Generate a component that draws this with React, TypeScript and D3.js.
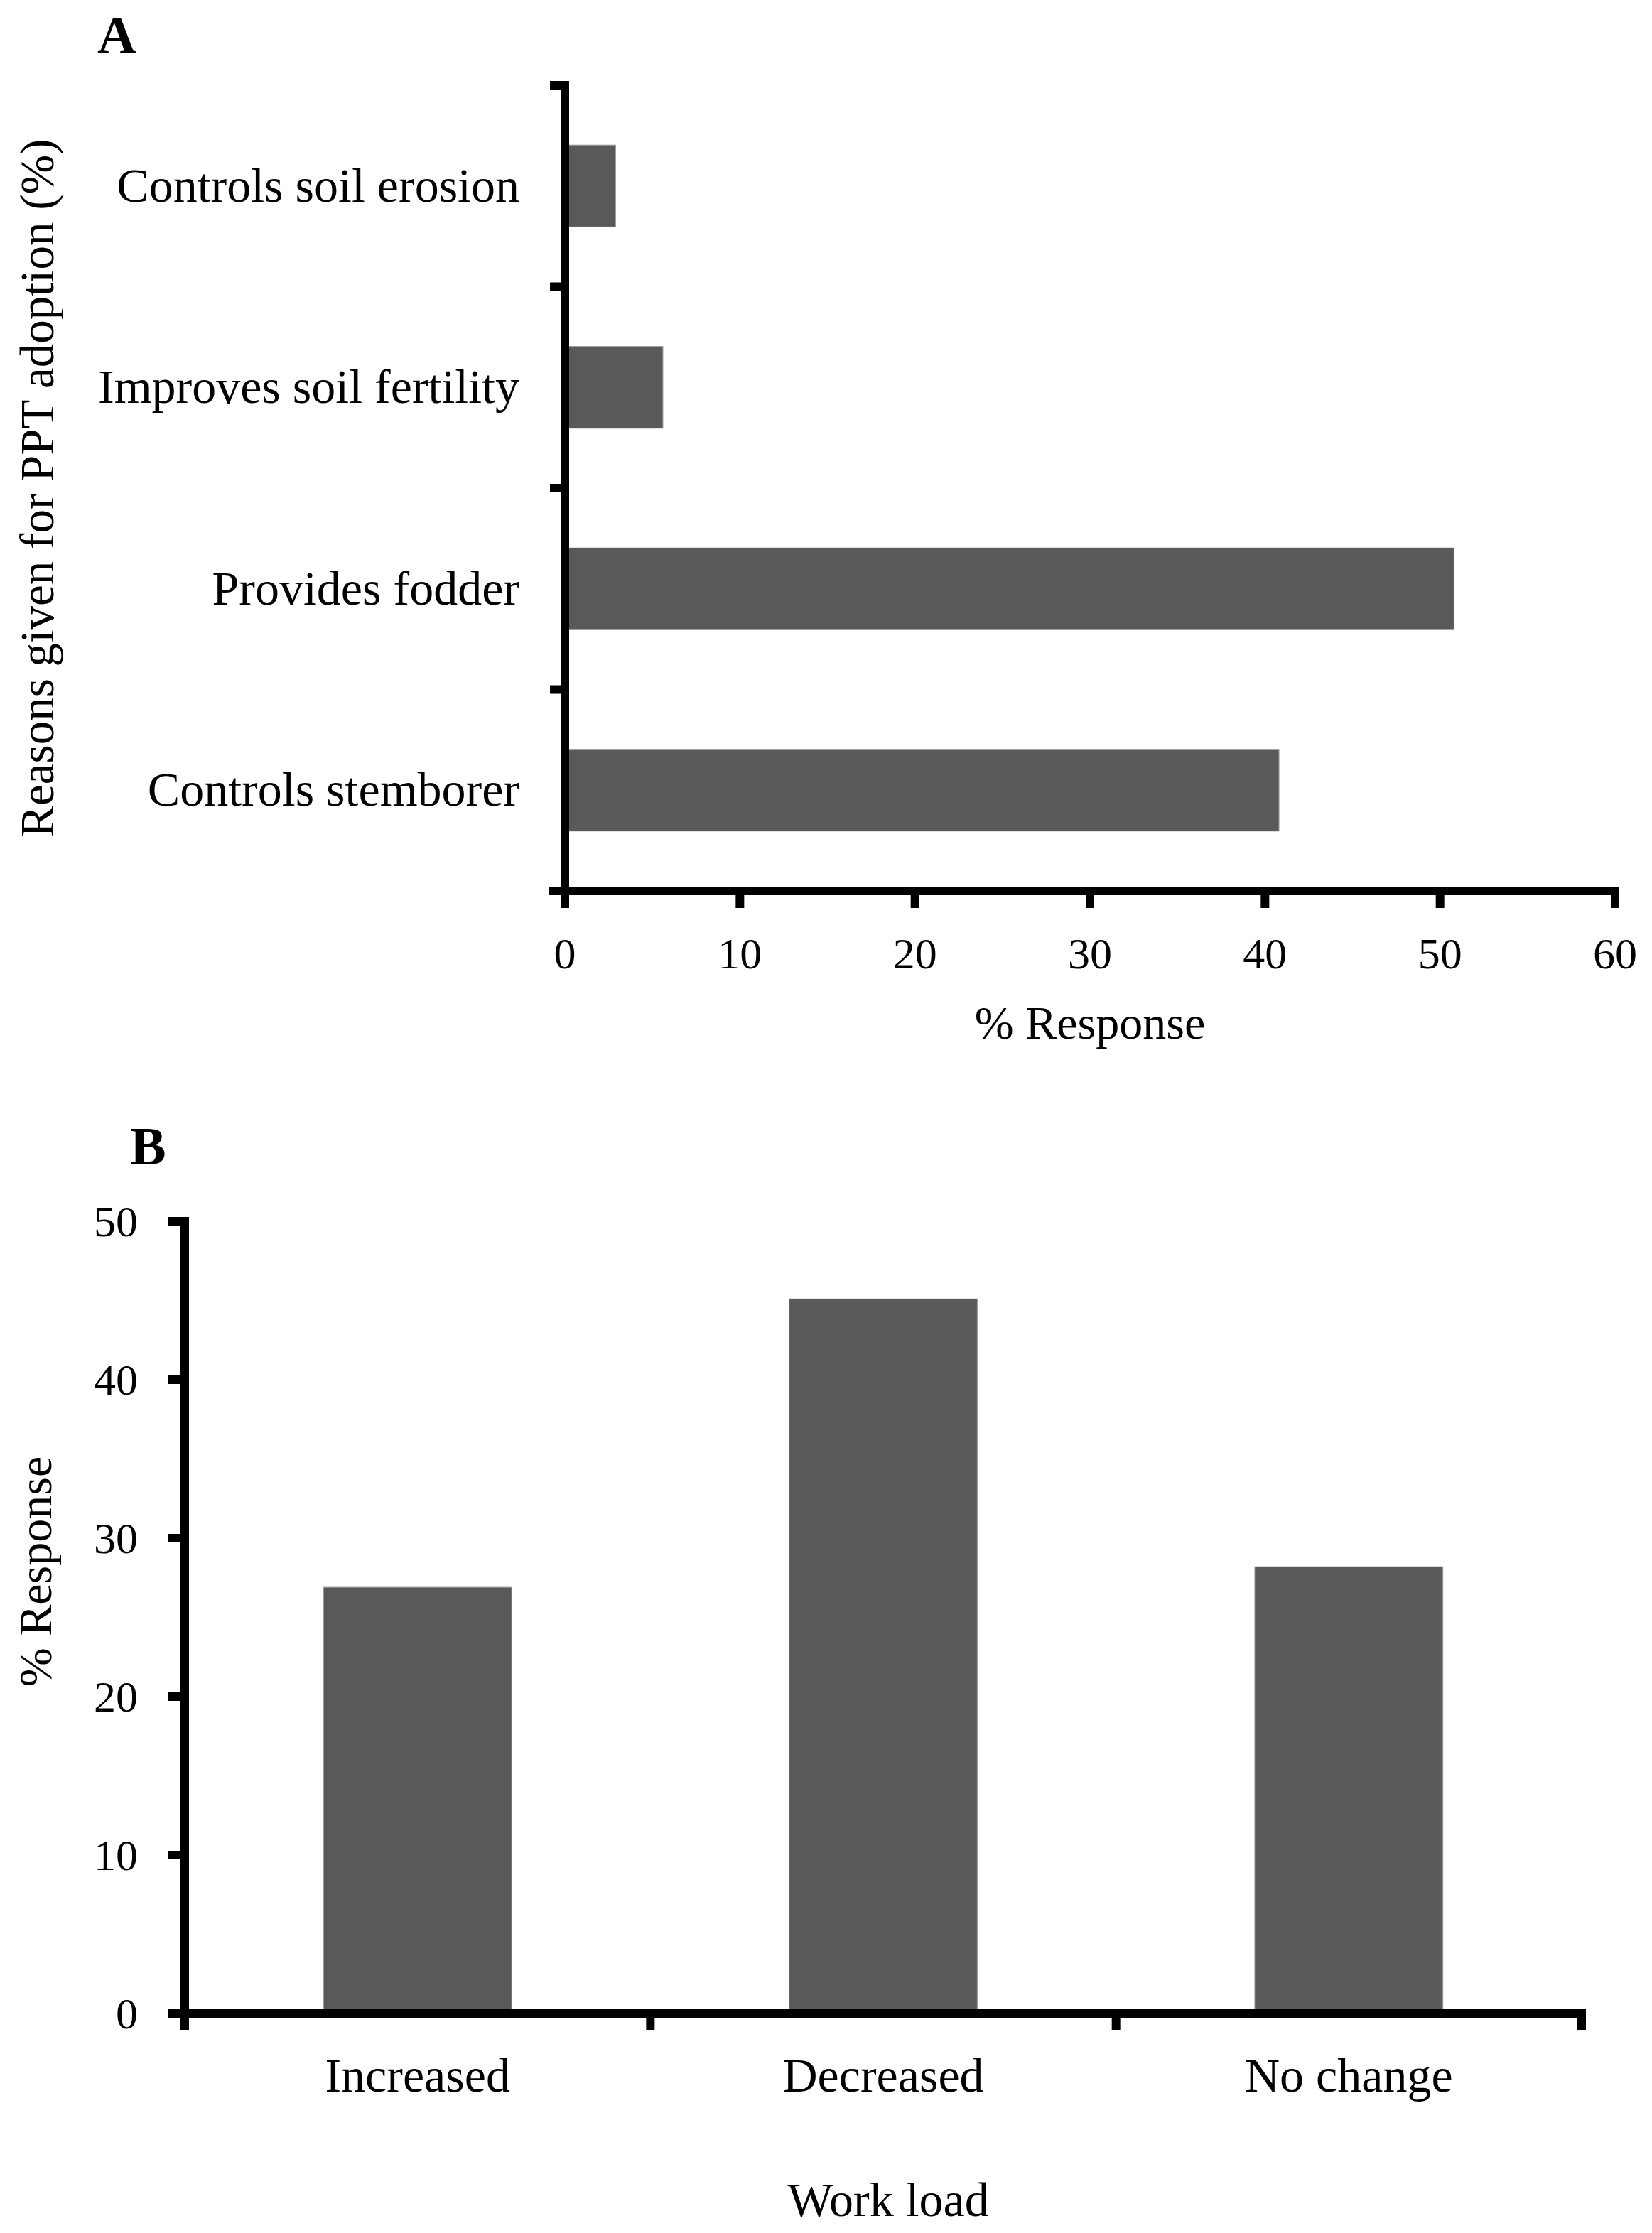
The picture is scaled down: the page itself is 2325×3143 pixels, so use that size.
import React from "react";
import * as d3 from "d3";

// Panel A data
const reasons = [
  "Controls soil erosion",
  "Improves soil fertility",
  "Provides fodder",
  "Controls stemborer",
];
const reasonValues = [2.9, 5.6, 50.8, 40.8];
const xTicksA = [0, 10, 20, 30, 40, 50, 60];

// Panel B data
const workload = ["Increased", "Decreased", "No change"];
const workloadValues = [26.9, 45.1, 28.2];
const yTicksB = [0, 10, 20, 30, 40, 50];

const FONT = "'Liberation Serif', 'Times New Roman', serif";
const BAR = "#595959";
const AXW = 12;

export default function App() {
  // Panel A scales
  const xA = d3.scaleLinear().domain([0, 60]).range([795, 2273]);
  const yA = d3.scaleBand<string>().domain(reasons).range([120, 1254]).padding(0);
  const bwA = yA.bandwidth();
  const boundsA = [...reasons.map((r) => yA(r) as number), 1254];

  // Panel B scales
  const xB = d3.scaleBand<string>().domain(workload).range([260, 2226]).padding(0);
  const yB = d3.scaleLinear().domain([0, 50]).range([2834, 1719]);
  const bwB = xB.bandwidth();
  const boundsB = [...workload.map((w) => xB(w) as number), 2226];

  return (
    <svg
      width={2325}
      height={3143}
      viewBox="0 0 2325 3143"
      style={{ position: "absolute", left: 0, top: 0, background: "#fff" }}
      fontFamily={FONT}
    >
      <rect x={0} y={0} width={2325} height={3143} fill="#fff" />

      {/* ---------------- Panel A ---------------- */}
      <text x={137} y={75} fontSize={76} fontWeight="bold">A</text>

      {reasons.map((r, i) => (
        <rect
          key={r}
          x={xA(0)}
          y={(yA(r) as number) + bwA * 0.297}
          width={xA(reasonValues[i]) - xA(0)}
          height={bwA * 0.406}
          fill={BAR}
          stroke="#9a9a9a"
          strokeWidth={1}
        />
      ))}

      {reasons.map((r) => (
        <text
          key={r}
          x={731}
          y={(yA(r) as number) + bwA / 2 + 22}
          fontSize={68}
          textAnchor="end"
        >
          {r}
        </text>
      ))}

      {/* y axis A */}
      <line x1={xA(0)} x2={xA(0)} y1={120 - AXW / 2} y2={1254} stroke="#000" strokeWidth={AXW} />
      {boundsA.map((b, i) => (
        <line key={i} x1={774} x2={xA(0)} y1={b} y2={b} stroke="#000" strokeWidth={AXW} />
      ))}
      {/* x axis A */}
      <line x1={773} x2={xA(60) + AXW / 2} y1={1254} y2={1254} stroke="#000" strokeWidth={AXW} />
      {xTicksA.map((t) => (
        <g key={t}>
          <line x1={xA(t)} x2={xA(t)} y1={1254} y2={1278} stroke="#000" strokeWidth={AXW} />
          <text x={xA(t)} y={1363} fontSize={62} textAnchor="middle">{t}</text>
        </g>
      ))}
      <text x={(xA(0) + xA(60)) / 2} y={1462} fontSize={66} textAnchor="middle">% Response</text>
      <text
        transform={`translate(75, ${(120 + 1254) / 2}) rotate(-90)`}
        fontSize={67}
        textAnchor="middle"
      >
        Reasons given for PPT adoption (%)
      </text>

      {/* ---------------- Panel B ---------------- */}
      <text x={183} y={1639} fontSize={76} fontWeight="bold">B</text>

      {workload.map((w, i) => (
        <rect
          key={w}
          x={(xB(w) as number) + bwB * 0.298}
          y={yB(workloadValues[i])}
          width={bwB * 0.404}
          height={yB(0) - yB(workloadValues[i])}
          fill={BAR}
          stroke="#9a9a9a"
          strokeWidth={1}
        />
      ))}

      {/* y axis B */}
      <line x1={260} x2={260} y1={1713} y2={2857} stroke="#000" strokeWidth={AXW} />
      {yTicksB.map((t) => (
        <g key={t}>
          <line x1={236} x2={260} y1={yB(t)} y2={yB(t)} stroke="#000" strokeWidth={AXW} />
          <text x={194} y={yB(t) + 21} fontSize={62} textAnchor="end">{t}</text>
        </g>
      ))}
      {/* x axis B */}
      <line x1={236} x2={2226 + AXW / 2} y1={yB(0)} y2={yB(0)} stroke="#000" strokeWidth={AXW} />
      {boundsB.map((b, i) => (
        <line key={i} x1={b} x2={b} y1={yB(0)} y2={2857} stroke="#000" strokeWidth={AXW} />
      ))}
      {workload.map((w) => (
        <text
          key={w}
          x={(xB(w) as number) + bwB / 2}
          y={2944}
          fontSize={68}
          textAnchor="middle"
        >
          {w}
        </text>
      ))}
      <text x={1250} y={3119} fontSize={68} textAnchor="middle">Work load</text>
      <text
        transform={`translate(72, 2212) rotate(-90)`}
        fontSize={66}
        textAnchor="middle"
      >
        % Response
      </text>
    </svg>
  );
}
